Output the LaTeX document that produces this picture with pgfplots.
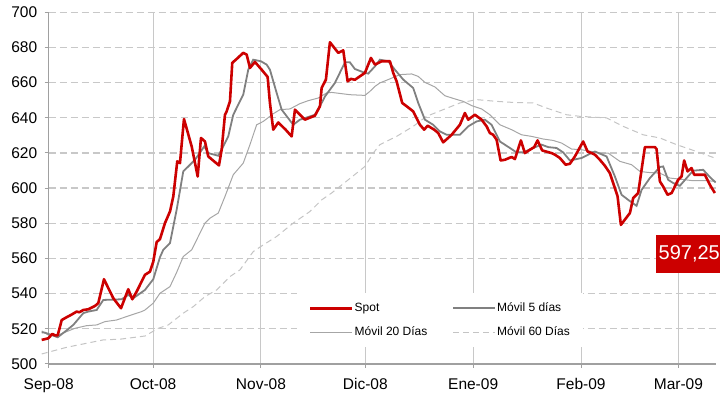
\documentclass[border=0pt]{standalone}
\usepackage{pgfplots}
\pgfplotsset{compat=1.18}
\usepackage{fontspec}
\setmainfont{Liberation Sans}
\definecolor{spotred}{HTML}{CC0000}
\definecolor{ma5}{HTML}{808080}
\definecolor{ma20}{HTML}{A6A6A6}
\definecolor{ma60}{HTML}{C4C4C4}
\definecolor{gridc}{HTML}{C8C8C8}
\definecolor{axc}{HTML}{A0A0A0}
\begin{document}
\begin{tikzpicture}
\begin{axis}[
  name=ax,
  scale only axis,
  width=667.3pt, height=351.8pt,
  xmin=0, xmax=191.8, ymin=500, ymax=700,
  clip=false,
  axis x line*=bottom, axis y line*=left,
  axis line style={draw=axc, line width=1.5pt},
  xtick={0,30,61,91,122,153,181},
  xticklabels={Sep-08,Oct-08,Nov-08,Dic-08,Ene-09,Feb-09,Mar-09},
  ytick={500,520,...,700},
  tick align=outside,
  major tick length=4pt,
  tick style={draw=axc, line width=1pt},
  grid=major,
  x grid style={draw=gridc, line width=1pt},
  y grid style={draw=gridc, line width=1.2pt, dash pattern=on 7pt off 4pt},
  /pgf/number format/assume math mode=true,
  ticklabel style={font=\fontsize{15.5}{15.5}\selectfont, text=black},
  xticklabel style={yshift=-7pt},
  yticklabel style={xshift=-4pt},
  legend columns=2,
  legend cell align=left,
  legend style={at={(rel axis cs:0.372,0.2018)}, anchor=north west, draw=none, fill=white,
    font=\fontsize{12}{12}\selectfont, inner xsep=12pt, inner ysep=8pt, row sep=10pt,
    nodes={inner xsep=1pt, inner ysep=1pt, text height=9pt, text depth=3pt},
    /tikz/every even column/.append style={column sep=24pt}},
  legend image code/.code={\draw[#1] (0pt,0pt) -- (42pt,0pt);},
]
% Moving average 60 days
\addplot[forget plot, color=ma60, line width=1pt, dash pattern=on 6pt off 4pt] coordinates {
(-2.01,505.7)(5.17,509.5)(15.69,513.7)(20.49,514.1)(27.67,515.9)(31.49,520.3)(34.37,522.2)
(38.68,528.9)(41.55,532.6)(44.91,538.3)(48.28,542.1)(52.10,549.7)(54.97,553.5)(58.79,563.9)
(61.67,567.7)(65.52,572.5)(70.29,580.1)(75.09,586.7)(78.45,593.3)(81.32,597.2)(86.09,604.7)
(90.89,612.3)(93.28,619.9)(95.20,624.7)(100.00,629.4)(104.77,635.1)(108.62,640.8)(113.39,644.6)
(118.19,648.4)(122.99,650.3)(128.74,649.3)(133.51,648.7)(139.25,648.4)(143.11,645.5)(148.85,641.7)
(152.67,640.8)(160.35,639.9)(165.12,635.1)(170.87,630.3)(175.67,628.5)(180.46,624.7)(186.21,620.8)
(191.47,617.1)};
% Moving average 20 days
\addplot[forget plot, color=ma20, line width=1pt] coordinates {
(-2.01,518.8)(-0.11,516.5)(3.25,516.9)(7.56,520.3)(10.92,521.8)(13.79,522.2)(16.18,524.1)
(19.49,525.0)(22.87,527.3)(26.72,529.8)(27.67,530.7)(30.06,534.6)(31.98,540.2)(34.86,544.0)
(36.78,552.1)(38.68,561.1)(41.09,564.9)(42.53,570.6)(44.91,580.1)(46.35,582.9)(48.74,585.8)
(50.66,595.2)(53.05,607.6)(55.92,614.2)(57.85,624.7)(59.77,636.0)(61.67,637.9)(63.59,640.8)
(64.08,641.7)(66.47,644.6)(69.34,645.0)(72.21,648.0)(74.60,649.7)(77.47,651.2)(79.89,654.1)
(81.32,654.4)(86.58,653.1)(90.89,652.7)(92.33,655.0)(93.77,657.8)(95.20,659.8)(97.59,661.7)
(100.95,664.5)(104.31,664.9)(106.21,663.5)(108.13,660.1)(111.01,657.5)(113.88,652.5)(116.75,650.7)
(119.14,649.3)(121.55,646.9)(124.43,645.0)(126.81,641.7)(129.69,636.0)(133.05,633.2)(135.92,630.3)
(138.80,629.4)(142.13,627.9)(145.00,627.1)(147.42,625.6)(150.29,622.2)(153.16,621.8)(156.04,620.8)
(158.42,619.9)(160.81,619.9)(164.17,615.2)(167.53,613.3)(169.92,609.5)(172.30,608.9)(175.67,608.5)
(178.54,605.7)(181.41,605.1)(184.77,604.3)(188.59,604.3)(191.67,603.8)};
% Moving average 5 days
\addplot[forget plot, color=ma5, line width=1.8pt] coordinates {
(-2.01,518.0)(-1.06,517.8)(2.59,515.2)(4.68,518.4)(7.07,522.2)(9.94,528.9)(11.38,529.8)
(13.79,530.7)(15.69,536.4)(20.98,536.8)(22.87,539.3)(24.31,537.4)(27.67,542.1)(30.06,548.2)
(31.98,560.7)(32.93,564.9)(34.86,568.7)(36.78,587.7)(38.68,609.5)(40.12,612.3)(42.04,616.1)
(44.71,623.7)(45.86,619.9)(48.74,618.4)(50.17,623.7)(51.61,629.4)(53.05,641.7)(54.48,647.4)
(55.92,653.1)(57.36,667.3)(58.79,673.0)(61.01,672.1)(62.64,670.2)(63.59,667.3)(65.52,654.1)
(66.96,644.6)(70.29,636.0)(72.21,638.9)(73.65,639.8)(76.52,641.7)(77.96,646.5)(79.40,652.1)
(82.27,659.8)(85.15,671.5)(86.58,671.5)(88.02,667.7)(90.89,665.5)(91.84,665.1)(93.77,669.2)
(95.20,673.0)(97.59,672.1)(99.51,667.3)(101.90,661.7)(104.77,656.9)(106.21,648.4)(108.13,638.9)
(110.52,636.0)(112.45,632.2)(114.37,630.3)(118.19,630.3)(120.58,635.1)(122.99,637.9)(125.37,638.9)
(127.30,636.0)(129.69,626.5)(132.56,622.8)(134.48,620.3)(136.38,620.3)(139.25,622.8)(141.67,624.7)
(143.56,623.3)(145.98,622.8)(147.88,620.3)(149.80,615.7)(153.16,617.1)(155.55,619.5)(156.99,620.8)
(160.35,618.0)(162.74,606.6)(164.66,596.2)(166.56,593.3)(168.97,589.9)(170.41,599.0)(172.80,605.7)
(175.67,612.0)(176.61,612.3)(178.05,604.7)(179.49,602.9)(181.41,601.3)(183.33,605.7)(185.23,609.9)
(188.11,610.4)(190.03,606.3)(191.67,603.2)};
% Spot
\addplot[forget plot, color=spotred, line width=2.6pt, line join=round] coordinates {
(-2.01,513.7)(-0.11,514.6)(1.03,517.1)(1.81,516.3)(2.59,516.3)(3.74,525.0)(5.17,526.6)
(6.41,527.9)(8.05,529.8)(8.79,529.4)(9.94,530.7)(11.38,531.1)(13.30,533.0)(14.25,534.6)
(15.89,548.2)(18.56,537.4)(20.78,531.7)(22.87,542.5)(24.02,536.8)(25.29,541.2)(27.67,550.7)
(29.11,552.5)(30.06,558.2)(31.03,569.3)(31.98,571.0)(33.42,580.1)(34.86,586.7)(35.81,595.2)
(36.95,615.2)(37.73,614.2)(38.88,639.3)(41.09,623.7)(42.82,606.6)(43.77,628.5)(44.91,626.5)
(45.86,618.0)(48.94,612.9)(49.71,621.8)(50.66,641.7)(51.15,643.6)(52.10,649.3)(52.76,671.2)
(54.02,673.4)(55.92,676.9)(56.90,675.9)(57.85,668.3)(59.28,671.7)(61.21,667.3)(62.93,663.2)
(63.59,648.4)(64.54,633.2)(65.98,637.3)(68.10,633.2)(69.83,629.4)(70.78,644.6)(72.21,641.7)
(73.65,638.9)(76.52,641.2)(77.96,646.5)(78.45,656.9)(79.68,661.7)(80.83,682.9)(83.22,676.9)
(84.66,678.3)(85.92,660.7)(86.87,662.1)(88.02,661.6)(90.89,665.5)(92.62,674.0)(93.77,670.2)
(95.69,672.1)(98.08,672.1)(99.03,665.5)(100.00,660.7)(101.61,648.4)(103.16,646.1)(104.77,643.6)
(106.70,636.0)(107.93,633.2)(108.91,635.5)(110.81,633.2)(111.96,631.3)(113.39,626.0)(115.81,630.3)
(118.19,636.0)(119.63,642.7)(120.58,638.9)(122.50,641.7)(124.43,638.9)(125.87,635.1)(126.81,631.3)
(127.76,630.3)(128.74,627.5)(129.89,615.7)(131.12,616.1)(133.05,617.7)(134.00,616.5)(135.72,627.1)
(136.87,619.9)(138.31,621.8)(139.54,623.3)(140.52,627.1)(141.84,621.4)(143.11,620.7)(144.54,619.9)
(145.49,619.0)(146.93,617.1)(148.57,613.3)(149.80,613.8)(151.24,618.0)(153.62,626.5)(154.89,620.8)
(156.04,619.9)(156.99,619.0)(158.42,616.1)(159.86,612.7)(161.30,608.5)(162.25,602.9)(163.51,595.3)
(164.46,579.1)(167.05,585.8)(167.99,594.3)(169.43,597.2)(171.36,623.3)(174.23,623.3)(174.72,622.2)
(175.67,603.8)(176.61,600.9)(177.88,596.2)(179.03,597.2)(180.92,604.7)(181.90,606.6)(182.65,615.7)
(183.62,609.5)(184.77,611.4)(185.52,607.6)(188.59,607.6)(190.03,601.9)(191.47,597.2)};
\addlegendimage{color=spotred, line width=2.6pt}
\addlegendentry{Spot}
\addlegendimage{color=ma5, line width=1.8pt}
\addlegendentry{Móvil 5 días}
\addlegendimage{color=ma20, line width=1pt}
\addlegendentry{Móvil 20 Días}
\addlegendimage{color=ma60, line width=1pt, dash pattern=on 6pt off 4pt}
\addlegendentry{Móvil 60 Días}
\node[fill=spotred, text=white, anchor=west, font=\fontsize{20}{20}\selectfont,
  minimum height=38pt, inner xsep=3pt, inner ysep=0pt] at (axis cs:174.4,562.6) {597,25};
\end{axis}
\pgfresetboundingbox
\path ([xshift=-48.7pt,yshift=-31pt]ax.south west) rectangle ([xshift=4pt,yshift=12.2pt]ax.north east);
\end{tikzpicture}
\end{document}
